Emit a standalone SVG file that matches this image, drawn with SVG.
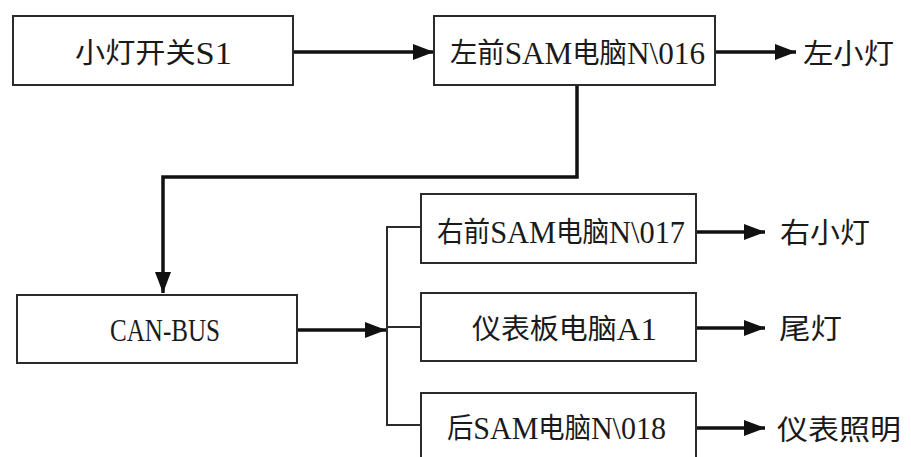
<svg xmlns="http://www.w3.org/2000/svg" width="911" height="457" viewBox="0 0 911 457">
<style>
.box{fill:#fff;stroke:#2b2b2b;stroke-width:2}
.t{font-family:"Liberation Serif","Noto Sans CJK SC",serif;font-size:28px;fill:#1a1a1a;dominant-baseline:central}
.l{font-size:32px}
.thick{fill:none;stroke:#111;stroke-width:3.5}
.thin{fill:none;stroke:#2b2b2b;stroke-width:2}
</style>
<defs>
<marker id="ah" markerUnits="userSpaceOnUse" markerWidth="22" markerHeight="18" refX="21" refY="9" orient="auto">
<path d="M0,1 L21,9 L0,17 Z" fill="#111"/>
</marker>
</defs>
<rect width="911" height="457" fill="#fff"/>
<g id="connectors">
<line class="thick" x1="293" y1="52" x2="434" y2="52" marker-end="url(#ah)"/>
<line class="thick" x1="715" y1="52" x2="796" y2="52" marker-end="url(#ah)"/>
<polyline class="thick" points="577,85 577,177 163,177 163,293" marker-end="url(#ah)"/>
<line class="thick" x1="297" y1="330" x2="386" y2="330" marker-end="url(#ah)"/>
<polyline class="thin" points="421,227 387,227 387,425 421,425"/>
<line class="thin" x1="387" y1="327" x2="421" y2="327"/>
<line class="thick" x1="696" y1="232" x2="765" y2="232" marker-end="url(#ah)"/>
<line class="thick" x1="696" y1="328" x2="765" y2="328" marker-end="url(#ah)"/>
<line class="thick" x1="696" y1="428" x2="765" y2="428" marker-end="url(#ah)"/>
</g>
<g id="n-switch">
<rect class="box" x="13" y="16" width="280" height="69"/>
<text class="t" x="75" y="53" textLength="157" lengthAdjust="spacingAndGlyphs">小灯开关<tspan class="l">S1</tspan></text>
</g>
<g id="n-lfsam">
<rect class="box" x="434" y="16" width="281" height="69"/>
<text class="t" x="450" y="53" textLength="255" lengthAdjust="spacingAndGlyphs">左前<tspan class="l">SAM</tspan>电脑<tspan class="l">N\016</tspan></text>
</g>
<g id="n-leftlamp">
<text class="t" x="803" y="54" textLength="91" lengthAdjust="spacingAndGlyphs">左小灯</text>
</g>
<g id="n-canbus">
<rect class="box" x="17" y="295" width="280" height="68"/>
<text class="t l" x="110" y="330" textLength="110" lengthAdjust="spacingAndGlyphs">CAN-BUS</text>
</g>
<g id="n-rfsam">
<rect class="box" x="421" y="194" width="275" height="69"/>
<text class="t" x="437" y="232" textLength="248" lengthAdjust="spacingAndGlyphs">右前<tspan class="l">SAM</tspan>电脑<tspan class="l">N\017</tspan></text>
</g>
<g id="n-rightlamp">
<text class="t" x="780" y="233" textLength="90" lengthAdjust="spacingAndGlyphs">右小灯</text>
</g>
<g id="n-a1">
<rect class="box" x="421" y="293" width="275" height="68"/>
<text class="t" x="472" y="329" textLength="185" lengthAdjust="spacingAndGlyphs">仪表板电脑<tspan class="l">A1</tspan></text>
</g>
<g id="n-tail">
<text class="t" x="779" y="329" textLength="63" lengthAdjust="spacingAndGlyphs">尾灯</text>
</g>
<g id="n-rsam">
<rect class="box" x="421" y="393" width="275" height="70"/>
<text class="t" x="447" y="428" textLength="219" lengthAdjust="spacingAndGlyphs">后<tspan class="l">SAM</tspan>电脑<tspan class="l">N\018</tspan></text>
</g>
<g id="n-dash">
<text class="t" x="777" y="430" textLength="124" lengthAdjust="spacingAndGlyphs">仪表照明</text>
</g>
</svg>
